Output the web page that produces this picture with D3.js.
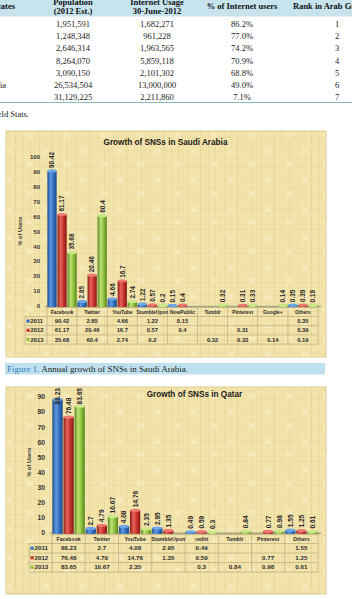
<!DOCTYPE html>
<html>
<head>
<meta charset="utf-8">
<script src="https://cdn.jsdelivr.net/npm/d3@7"></script>
<style>
  body { margin: 0; background: #fff; }
  svg { display: block; }
</style>
</head>
<body>
<script>
// ---- data ----
const years = ["2011", "2012", "2013"]

const states = ["Qatar", "Bahrain", "Kuwait", "UAE", "Oman", "Saudi Arabia", "Iraq"]
const population = ["1,951,591", "1,248,348", "2,646,314", "8,264,070", "3,090,150", "26,534,504", "31,129,225"]
const internetUsage = ["1,682,271", "961,228", "1,963,565", "5,859,118", "2,101,302", "13,000,000", "2,211,860"]
const pctUsers = ["86.2%", "77.0%", "74.2%", "70.9%", "68.8%", "49.0%", "7.1%"]
const rank = ["1", "2", "3", "4", "5", "6", "7"]

const saudiCategories = ["Facebook", "Twitter", "YouTube", "StumbleUpon", "NowPublic", "Tumblr", "Pinterest", "Google+", "Others"]
const saudi2011 = [90.42, 2.85, 4.66, 1.22, 0.15, null, null, null, 0.35]
const saudi2012 = [61.17, 20.46, 16.7, 0.57, 0.4, null, 0.31, null, 0.39]
const saudi2013 = [35.68, 60.4, 2.74, 0.2, null, 0.32, 0.33, 0.14, 0.19]
const saudiTicks = d3.range(0, 101, 10)

const qatarCategories = ["Facebook", "Twitter", "YouTube", "StumbleUpon", "reditt", "Tumblr", "Pinterest", "Others"]
const qatar2011 = [88.23, 2.7, 4.08, 2.95, 0.49, null, null, 1.55]
const qatar2012 = [76.48, 4.79, 14.76, 1.35, 0.59, null, 0.77, 1.25]
const qatar2013 = [83.65, 10.67, 2.35, null, 0.3, 0.84, 0.98, 0.61]
const qatarTicks = d3.range(0, 91, 10)

const W = 352, H = 599
const svg = d3.select("body").append("svg").attr("width", W).attr("height", H)
const defs = svg.append("defs")

// bar gradients
const barColors = {
    "2011": ["#1b4a8e", "#5f9be0", "#3372c2", "#1a4585", "#6ea6e8"],
    "2012": ["#8a1b17", "#e8645c", "#c8342d", "#821915", "#ec7a72"],
    "2013": ["#5a8a1e", "#bfe277", "#8fc03e", "#57861c", "#c9e88a"]
}
years.forEach(yr => {
    let c = barColors[yr]
    let grad = defs.append("linearGradient").attr("id", "g" + yr)
        .attr("x1", "0%").attr("x2", "100%").attr("y1", "0%").attr("y2", "0%")
    grad.append("stop").attr("offset", "0%").attr("stop-color", c[0])
    grad.append("stop").attr("offset", "35%").attr("stop-color", c[1])
    grad.append("stop").attr("offset", "65%").attr("stop-color", c[2])
    grad.append("stop").attr("offset", "100%").attr("stop-color", c[3])
})

// parchment texture
const pat = defs.append("pattern").attr("id", "parch").attr("patternUnits", "userSpaceOnUse")
    .attr("width", 37).attr("height", 29)
pat.append("rect").attr("width", 37).attr("height", 29).attr("fill", "#f3e4ab")
;[[2, .35], [9, .2], [15, .45], [23, .25], [30, .4], [34, .15]].forEach(([x, o]) =>
    pat.append("rect").attr("x", x).attr("y", 0).attr("width", 0.8).attr("height", 29)
        .attr("fill", "#d9c27e").attr("opacity", o))
;[[5, .3], [13, .2], [21, .35], [26, .15]].forEach(([y, o]) =>
    pat.append("rect").attr("x", 0).attr("y", y).attr("width", 37).attr("height", 0.7)
        .attr("fill", "#d6c07c").attr("opacity", o))
;[[6, 4], [27, 17]].forEach(([x, y]) =>
    pat.append("rect").attr("x", x).attr("y", y).attr("width", 6).attr("height", 5)
        .attr("fill", "#f9efc6").attr("opacity", .6))

// ---- top table ----
const serif = "'Liberation Serif', 'Times New Roman', serif"
svg.append("rect").attr("x", 0).attr("y", 0).attr("width", W).attr("height", 16.5).attr("fill", "#c7e4ee")
const head = svg.append("g").attr("font-family", serif).attr("font-weight", "bold")
    .attr("font-size", 8.5).attr("fill", "#111").attr("text-anchor", "middle")
head.append("text").attr("x", 15).attr("y", 9).attr("text-anchor", "end").text("States")
head.append("text").attr("x", 73).attr("y", 4.5).text("Population")
head.append("text").attr("x", 73).attr("y", 13.5).text("(2012 Est.)")
head.append("text").attr("x", 157).attr("y", 4.5).text("Internet Usage")
head.append("text").attr("x", 157).attr("y", 13.5).text("30-June-2012")
head.append("text").attr("x", 242).attr("y", 9).text("% of Internet users")
head.append("text").attr("x", 293).attr("y", 9).attr("text-anchor", "start").text("Rank in Arab Gulf")

const rowY = d3.scaleLinear().domain([0, 6]).range([27, 100])
const body = svg.append("g").attr("font-family", serif).attr("font-size", 8.5).attr("fill", "#222")
const cols = [[population, 73], [internetUsage, 157], [pctUsers, 242], [rank, 337]]
states.forEach((s, i) => {
    body.append("text").attr("x", -38).attr("y", rowY(i)).text(s)
    cols.forEach(([arr, x]) => body.append("text").attr("x", x).attr("y", rowY(i))
        .attr("text-anchor", "middle").text(arr[i]))
})
svg.append("line").attr("x1", 0).attr("x2", W).attr("y1", 102.5).attr("y2", 102.5)
    .attr("stroke", "#8db6c4").attr("stroke-width", 1)
svg.append("text").attr("x", 29).attr("y", 117).attr("text-anchor", "end")
    .attr("font-family", serif).attr("font-size", 8.5).attr("fill", "#222")
    .text("Source: Internet World Stats.")

// ---- charts ----
const sans = "'Liberation Sans', Arial, sans-serif"

function drawChart(cfg) {
    let g = svg.append("g")
    g.append("rect").attr("x", cfg.panel[0]).attr("y", cfg.panel[1])
        .attr("width", cfg.panel[2]).attr("height", cfg.panel[3])
        .attr("fill", "url(#parch)").attr("stroke", "#dccb90").attr("stroke-width", 1)

    g.append("text").attr("x", cfg.titleX).attr("y", cfg.titleY).attr("text-anchor", "middle")
        .attr("font-family", sans).attr("font-weight", "bold").attr("font-size", 8.2)
        .attr("fill", "#1a1a1a").text(cfg.title)

    let scY = d3.scaleLinear().domain(cfg.yDomain).range(cfg.yRange)
    let scX = d3.scaleBand().domain(cfg.categories).range(cfg.xRange)
    let sub = d3.scaleBand().domain(years).range([0, scX.bandwidth()])
    let base = scY(0)

    // y axis
    let yAxis = g.append("g").attr("transform", `translate(${cfg.tickX},0)`)
        .call(d3.axisLeft(scY).tickValues(cfg.ticks).tickSize(0).tickPadding(0))
    yAxis.select(".domain").remove()
    yAxis.selectAll("text").attr("font-family", sans).attr("font-weight", "bold")
        .attr("font-size", cfg.tickFont).attr("fill", "#333")

    g.append("text").attr("transform", `translate(${cfg.axisTitle[0]},${cfg.axisTitle[1]}) rotate(-90)`)
        .attr("text-anchor", "middle").attr("font-family", sans).attr("font-weight", "bold")
        .attr("font-size", 5.6).attr("fill", "#333").text("% of Users")

    // floor
    g.append("line").attr("x1", cfg.xRange[0] - 2).attr("x2", cfg.xRange[1] + 3)
        .attr("y1", base + 0.8).attr("y2", base + 0.8)
        .attr("stroke", "#a4a883").attr("stroke-width", 1.6)

    // bars
    let bw = sub.bandwidth() - 0.8
    let bars = []
    cfg.series.forEach((vals, k) => vals.forEach((v, i) => {
        if (v == null) return
        bars.push({ year: years[k], cat: cfg.categories[i], value: v })
    }))
    let bar = g.selectAll("g.bar").data(bars).enter().append("g").attr("class", "bar")
    bar.append("rect")
        .attr("x", d => scX(d.cat) + sub(d.year) + 0.4)
        .attr("y", d => scY(d.value))
        .attr("width", bw)
        .attr("height", d => base - scY(d.value))
        .attr("fill", d => `url(#g${d.year})`)
    bar.append("ellipse")
        .attr("cx", d => scX(d.cat) + sub(d.year) + 0.4 + bw / 2)
        .attr("cy", base)
        .attr("rx", bw / 2).attr("ry", 1.6)
        .attr("fill", d => `url(#g${d.year})`)
    bar.append("ellipse")
        .attr("cx", d => scX(d.cat) + sub(d.year) + 0.4 + bw / 2)
        .attr("cy", d => scY(d.value))
        .attr("rx", bw / 2).attr("ry", 1.6)
        .attr("fill", d => barColors[d.year][4])

    // value labels
    bar.append("text")
        .attr("font-family", sans).attr("font-weight", "bold").attr("font-size", cfg.labelFont)
        .attr("fill", "#262626").attr("dy", "0.36em")
        .text(d => d.value)
        .attr("transform", function (d) {
            let len = this.getComputedTextLength()
            let cx = scX(d.cat) + sub(d.year) + 0.4 + bw / 2
            let yb = Math.max(scY(d.value) - 3, cfg.labelTop + len)
            return `translate(${cx},${yb}) rotate(-90)`
        })

    // data table
    let t = cfg.table
    let rowsTop = t.top + t.headH
    let bottom = rowsTop + t.rowH * 3
    let grid = g.append("g").attr("stroke", "#b3a37a").attr("stroke-width", 0.6)
    grid.append("line").attr("x1", cfg.xRange[0]).attr("x2", cfg.xRange[1]).attr("y1", t.top).attr("y2", t.top)
    d3.range(4).forEach(r => {
        let yy = rowsTop + r * t.rowH
        grid.append("line").attr("x1", t.left).attr("x2", cfg.xRange[1]).attr("y1", yy).attr("y2", yy)
    })
    grid.append("line").attr("x1", t.left).attr("x2", t.left).attr("y1", rowsTop).attr("y2", bottom)
    cfg.categories.forEach(c => {
        grid.append("line").attr("x1", scX(c)).attr("x2", scX(c)).attr("y1", t.top).attr("y2", bottom)
    })
    grid.append("line").attr("x1", cfg.xRange[1]).attr("x2", cfg.xRange[1]).attr("y1", t.top).attr("y2", bottom)

    let tt = g.append("g").attr("font-family", sans).attr("fill", "#2b2b2b").attr("text-anchor", "middle")
    cfg.categories.forEach((c, i) => {
        let cx = scX(c) + scX.bandwidth() / 2
        tt.append("text").attr("x", cx).attr("y", t.top + t.headH / 2).attr("dy", "0.35em")
            .attr("font-size", t.catFont).attr("font-weight", "bold").text(c)
        cfg.series.forEach((vals, k) => {
            if (vals[i] == null) return
            tt.append("text").attr("x", cx).attr("y", rowsTop + (k + 0.5) * t.rowH).attr("dy", "0.35em")
                .attr("font-size", t.valFont).attr("font-weight", "bold").text(vals[i])
        })
    })
    years.forEach((yr, k) => {
        let yy = rowsTop + (k + 0.5) * t.rowH
        g.append("rect").attr("x", t.left + 1.5).attr("y", yy - 1.6).attr("width", 3.2).attr("height", 3.2)
            .attr("fill", barColors[yr][2])
        g.append("text").attr("x", t.left + 5.5).attr("y", yy).attr("dy", "0.35em")
            .attr("font-family", sans).attr("font-weight", "bold").attr("font-size", t.valFont)
            .attr("fill", "#2b2b2b").text(yr)
    })
}

drawChart({
    panel: [6, 131, 320, 226],
    title: "Growth of SNSs in Saudi Arabia", titleX: 165.5, titleY: 145,
    categories: saudiCategories, series: [saudi2011, saudi2012, saudi2013],
    yDomain: [0, 100], yRange: [305.7, 156.7], ticks: saudiTicks,
    xRange: [47, 318], tickX: 40, tickFont: 6, axisTitle: [22, 231],
    labelFont: 6.4, labelTop: 148,
    table: { left: 25, top: 307.5, headH: 9, rowH: 9.2, catFont: 4.9, valFont: 5.8 }
})

drawChart({
    panel: [6, 387, 320, 207],
    title: "Growth of SNSs in Qatar", titleX: 194.5, titleY: 397,
    categories: qatarCategories, series: [qatar2011, qatar2012, qatar2013],
    yDomain: [0, 90], yRange: [532.5, 396.7], ticks: qatarTicks,
    xRange: [52, 318], tickX: 45, tickFont: 6.8, axisTitle: [31, 462],
    labelFont: 6.6, labelTop: 388,
    table: { left: 29, top: 534.5, headH: 9, rowH: 9.5, catFont: 5.2, valFont: 6.2 }
})

// caption
svg.append("rect").attr("x", 5).attr("y", 363).attr("width", 320).attr("height", 11.5).attr("fill", "#bfe1ee")
let cap = svg.append("text").attr("x", 7).attr("y", 372).attr("font-family", serif).attr("font-size", 9)
cap.append("tspan").attr("fill", "#2f80b8").text("Figure 1.")
cap.append("tspan").attr("fill", "#222").text(" Annual growth of SNSs in Saudi Arabia.")
</script>
</body>
</html>
